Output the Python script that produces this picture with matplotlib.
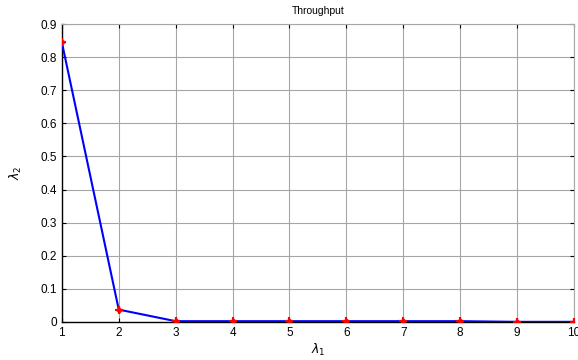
import numpy as np
import matplotlib
matplotlib.use("Agg")
import matplotlib.pyplot as plt

# lambda_1 vs lambda_2 throughput curve
lam1 = [1, 2, 3, 4, 5, 6, 7, 8, 9, 10]
lam2 = [0.845, 0.037, 0.002, 0.002, 0.002, 0.002, 0.002, 0.002, 0.0, 0.0]
xticks = [1, 2, 3, 4, 5, 6, 7, 8, 9, 10]
yticks = [0, 0.1, 0.2, 0.3, 0.4, 0.5, 0.6, 0.7, 0.8, 0.9]

plt.rcParams["font.family"] = ["Liberation Sans", "DejaVu Sans"]
fig = plt.figure(figsize=(5.78, 3.6), dpi=100)
ax = fig.add_axes([0.107, 0.106, 0.886, 0.827])

ax.plot(lam1, lam2, color="blue", lw=1.5, zorder=3)
ax.plot(lam1, lam2, ls="none", marker="+", ms=6, mew=1.6, color="red", zorder=4)
ax.plot(lam1, lam2, ls="none", marker="D", ms=2.5, mfc="none", mec="red", mew=1, zorder=4)

ax.set_xlim(1, 10)
ax.set_ylim(0, 0.9)
ax.set_xticks(xticks)
ax.set_yticks(yticks)
ax.set_yticklabels(["0", "0.1", "0.2", "0.3", "0.4", "0.5", "0.6", "0.7", "0.8", "0.9"])
ax.tick_params(labelsize=8.5, direction="in", length=3, top=True, right=True, width=0.8)
ax.grid(True, color="0.65", lw=0.8, ls="-")
ax.set_axisbelow(True)
for s in ["left", "bottom"]:
    ax.spines[s].set_color("black")
    ax.spines[s].set_linewidth(1.0)
for s in ["top", "right"]:
    ax.spines[s].set_color("0.65")
    ax.spines[s].set_linewidth(0.8)

ax.set_title("Throughput", fontsize=7.5, pad=7)
ax.set_xlabel(r"$\lambda_1$", fontsize=9, labelpad=2)
ax.set_ylabel(r"$\lambda_2$", fontsize=9, labelpad=12)

fig.savefig("out.png", dpi=100)
